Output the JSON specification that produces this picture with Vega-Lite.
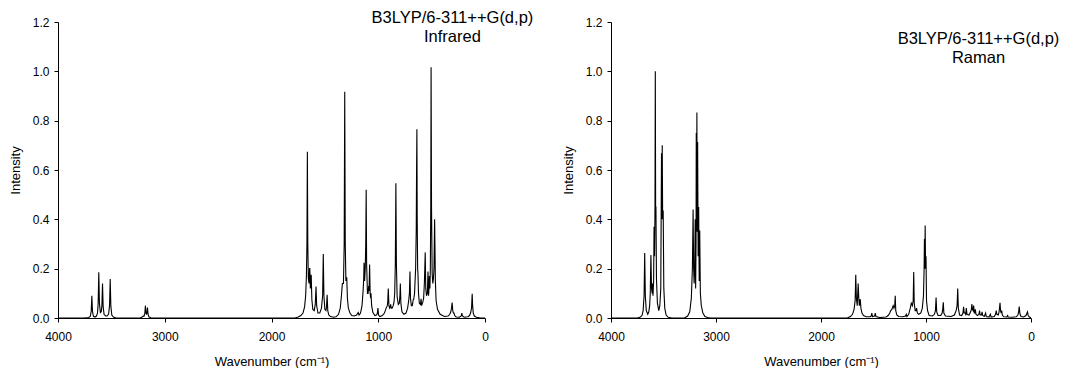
{
  "$schema": "https://vega.github.io/schema/vega-lite/v6.json",
  "padding": {"left": 9, "top": 9, "right": 0, "bottom": 0},
  "background": "white",
  "spacing": 126,
  "bounds": "flush",
  "config": {
    "view": {"stroke": null},
    "font": "Liberation Sans",
    "axis": {
      "grid": false,
      "domainColor": "black",
      "tickColor": "black",
      "labelColor": "black",
      "titleColor": "black",
      "labelFont": "Liberation Sans",
      "titleFont": "Liberation Sans",
      "labelFontSize": 12,
      "titleFontSize": 13,
      "titleFontWeight": "normal",
      "tickSize": 4,
      "labelFlush": false
    },
    "axisX": {"labelPadding": 9, "titlePadding": 13},
    "axisY": {"labelPadding": 5, "titlePadding": 10}
  },
  "datasets": {
    "ir": [
      {"w":4000,"i":0},{"w":3760,"i":0},{"w":3713,"i":0.002},{"w":3698,"i":0.006},{"w":3689,"i":0.027},{"w":3683,"i":0.09},{"w":3677,"i":0.027},{"w":3668,"i":0.007},{"w":3653,"i":0.004},{"w":3640,"i":0.008},{"w":3630,"i":0.02},{"w":3624,"i":0.058},{"w":3618,"i":0.185},{"w":3612,"i":0.06},{"w":3603,"i":0.022},{"w":3595,"i":0.025},{"w":3589,"i":0.048},{"w":3583,"i":0.14},{"w":3577,"i":0.045},{"w":3568,"i":0.014},{"w":3553,"i":0.008},{"w":3540,"i":0.008},{"w":3526,"i":0.016},{"w":3517,"i":0.05},{"w":3511,"i":0.158},{"w":3505,"i":0.048},{"w":3496,"i":0.012},{"w":3481,"i":0.004},{"w":3460,"i":0.001},{"w":3420,"i":0},
      {"w":3230,"i":0},{"w":3212,"i":0.004},{"w":3203,"i":0.008},{"w":3195,"i":0.007},{"w":3187,"i":0.018},{"w":3181,"i":0.05},{"w":3176,"i":0.02},{"w":3171,"i":0.016},{"w":3167,"i":0.02},{"w":3162,"i":0.042},{"w":3156,"i":0.014},{"w":3147,"i":0.004},{"w":3130,"i":0.001},{"w":3100,"i":0},
      {"w":1780,"i":0},{"w":1750,"i":0.004},{"w":1725,"i":0.01},{"w":1705,"i":0.02},{"w":1690,"i":0.045},{"w":1680,"i":0.09},{"w":1673,"i":0.17},{"w":1668,"i":0.3},{"w":1664,"i":0.674},{"w":1660,"i":0.3},{"w":1655,"i":0.16},{"w":1648,"i":0.14},{"w":1644,"i":0.2},{"w":1641,"i":0.2},{"w":1636,"i":0.12},{"w":1632,"i":0.13},{"w":1628,"i":0.175},{"w":1622,"i":0.075},{"w":1613,"i":0.035},{"w":1600,"i":0.03},{"w":1590,"i":0.055},{"w":1583,"i":0.128},{"w":1577,"i":0.05},{"w":1565,"i":0.02},{"w":1548,"i":0.02},{"w":1532,"i":0.04},{"w":1521,"i":0.09},{"w":1515,"i":0.259},{"w":1509,"i":0.09},{"w":1500,"i":0.035},{"w":1490,"i":0.03},{"w":1485,"i":0.045},{"w":1479,"i":0.094},{"w":1473,"i":0.03},{"w":1463,"i":0.012},{"w":1448,"i":0.006},{"w":1420,"i":0.003},{"w":1395,"i":0.005},{"w":1372,"i":0.015},{"w":1356,"i":0.04},{"w":1345,"i":0.09},{"w":1336,"i":0.14},{"w":1326,"i":0.14},{"w":1319,"i":0.3},{"w":1314,"i":0.917},{"w":1309,"i":0.3},{"w":1303,"i":0.15},{"w":1295,"i":0.165},{"w":1289,"i":0.08},{"w":1280,"i":0.04},{"w":1265,"i":0.02},{"w":1248,"i":0.01},{"w":1225,"i":0.008},{"w":1203,"i":0.012},{"w":1188,"i":0.022},{"w":1180,"i":0.012},{"w":1166,"i":0.02},{"w":1152,"i":0.05},{"w":1142,"i":0.11},{"w":1136,"i":0.16},{"w":1133,"i":0.224},{"w":1128,"i":0.15},{"w":1122,"i":0.2},{"w":1117,"i":0.3},{"w":1113,"i":0.52},{"w":1109,"i":0.22},{"w":1101,"i":0.1},{"w":1095,"i":0.1},{"w":1090,"i":0.13},{"w":1086,"i":0.11},{"w":1081,"i":0.217},{"w":1076,"i":0.1},{"w":1071,"i":0.08},{"w":1068,"i":0.1},{"w":1062,"i":0.05},{"w":1050,"i":0.022},{"w":1032,"i":0.01},{"w":1016,"i":0.012},{"w":1009,"i":0.018},{"w":1003,"i":0.04},{"w":997,"i":0.012},{"w":985,"i":0.006},{"w":962,"i":0.01},{"w":942,"i":0.02},{"w":926,"i":0.04},{"w":915,"i":0.05},{"w":911,"i":0.065},{"w":906,"i":0.12},{"w":900,"i":0.05},{"w":893,"i":0.04},{"w":888,"i":0.045},{"w":884,"i":0.055},{"w":878,"i":0.04},{"w":870,"i":0.04},{"w":860,"i":0.05},{"w":852,"i":0.065},{"w":846,"i":0.1},{"w":840,"i":0.22},{"w":835,"i":0.546},{"w":830,"i":0.22},{"w":823,"i":0.085},{"w":812,"i":0.055},{"w":803,"i":0.06},{"w":797,"i":0.09},{"w":793,"i":0.14},{"w":788,"i":0.06},{"w":778,"i":0.025},{"w":760,"i":0.015},{"w":740,"i":0.02},{"w":725,"i":0.04},{"w":715,"i":0.07},{"w":708,"i":0.1},{"w":703,"i":0.188},{"w":698,"i":0.08},{"w":690,"i":0.05},{"w":682,"i":0.05},{"w":677,"i":0.06},{"w":673,"i":0.074},{"w":668,"i":0.075},{"w":660,"i":0.1},{"w":650,"i":0.2},{"w":644,"i":0.36},{"w":641,"i":0.6},{"w":638,"i":0.765},{"w":635,"i":0.4},{"w":631,"i":0.2},{"w":628,"i":0.18},{"w":623,"i":0.1},{"w":615,"i":0.06},{"w":605,"i":0.055},{"w":599,"i":0.078},{"w":594,"i":0.05},{"w":585,"i":0.06},{"w":575,"i":0.08},{"w":568,"i":0.14},{"w":564,"i":0.2},{"w":560,"i":0.266},{"w":555,"i":0.12},{"w":548,"i":0.09},{"w":540,"i":0.1},{"w":534,"i":0.188},{"w":529,"i":0.09},{"w":524,"i":0.12},{"w":521,"i":0.17},{"w":516,"i":0.12},{"w":512,"i":0.2},{"w":508,"i":0.45},{"w":505,"i":1.017},{"w":501,"i":0.45},{"w":495,"i":0.18},{"w":489,"i":0.14},{"w":483,"i":0.16},{"w":478,"i":0.2},{"w":475,"i":0.3},{"w":472,"i":0.4},{"w":469,"i":0.3},{"w":465,"i":0.15},{"w":458,"i":0.07},{"w":445,"i":0.035},{"w":420,"i":0.015},{"w":380,"i":0.006},{"w":345,"i":0.008},{"w":330,"i":0.015},{"w":320,"i":0.025},{"w":314,"i":0.04},{"w":308,"i":0.063},{"w":302,"i":0.03},{"w":296,"i":0.02},{"w":290,"i":0.02},{"w":284,"i":0.01},{"w":270,"i":0.004},{"w":240,"i":0.003},{"w":223,"i":0.008},{"w":217,"i":0.02},{"w":211,"i":0.008},{"w":195,"i":0.003},{"w":160,"i":0.005},{"w":145,"i":0.01},{"w":135,"i":0.02},{"w":126,"i":0.04},{"w":123,"i":0.07},{"w":120,"i":0.098},{"w":116,"i":0.05},{"w":110,"i":0.02},{"w":100,"i":0.008},{"w":80,"i":0.003},{"w":50,"i":0.001},{"w":0,"i":0}
    ],
    "raman": [
      {"w":4000,"i":0},{"w":3750,"i":0},{"w":3720,"i":0.004},{"w":3705,"i":0.01},{"w":3694,"i":0.03},{"w":3685,"i":0.09},{"w":3679,"i":0.263},{"w":3673,"i":0.09},{"w":3664,"i":0.03},{"w":3650,"i":0.015},{"w":3640,"i":0.025},{"w":3632,"i":0.05},{"w":3626,"i":0.1},{"w":3620,"i":0.255},{"w":3614,"i":0.12},{"w":3608,"i":0.1},{"w":3605,"i":0.14},{"w":3600,"i":0.09},{"w":3594,"i":0.15},{"w":3590,"i":0.37},{"w":3585,"i":0.25},{"w":3581,"i":0.45},{"w":3578,"i":1.0},{"w":3575,"i":0.45},{"w":3572,"i":0.45},{"w":3567,"i":0.16},{"w":3558,"i":0.06},{"w":3545,"i":0.03},{"w":3535,"i":0.05},{"w":3526,"i":0.12},{"w":3519,"i":0.668},{"w":3515,"i":0.4},{"w":3512,"i":0.7},{"w":3508,"i":0.4},{"w":3503,"i":0.436},{"w":3497,"i":0.12},{"w":3488,"i":0.04},{"w":3475,"i":0.012},{"w":3455,"i":0.003},{"w":3420,"i":0},
      {"w":3300,"i":0},{"w":3270,"i":0.008},{"w":3250,"i":0.025},{"w":3235,"i":0.08},{"w":3225,"i":0.2},{"w":3218,"i":0.44},{"w":3213,"i":0.2},{"w":3208,"i":0.14},{"w":3203,"i":0.2},{"w":3198,"i":0.4},{"w":3194,"i":0.12},{"w":3190,"i":0.3},{"w":3188,"i":0.75},{"w":3185,"i":0.4},{"w":3182,"i":0.833},{"w":3179,"i":0.35},{"w":3175,"i":0.714},{"w":3170,"i":0.25},{"w":3165,"i":0.45},{"w":3160,"i":0.15},{"w":3155,"i":0.355},{"w":3149,"i":0.1},{"w":3140,"i":0.05},{"w":3125,"i":0.02},{"w":3105,"i":0.006},{"w":3080,"i":0.002},{"w":3050,"i":0},
      {"w":1750,"i":0},{"w":1720,"i":0.006},{"w":1700,"i":0.015},{"w":1685,"i":0.035},{"w":1675,"i":0.07},{"w":1669,"i":0.175},{"w":1663,"i":0.08},{"w":1655,"i":0.05},{"w":1646,"i":0.14},{"w":1640,"i":0.08},{"w":1635,"i":0.05},{"w":1630,"i":0.07},{"w":1626,"i":0.076},{"w":1620,"i":0.04},{"w":1610,"i":0.02},{"w":1595,"i":0.01},{"w":1570,"i":0.005},{"w":1530,"i":0.005},{"w":1522,"i":0.008},{"w":1516,"i":0.02},{"w":1510,"i":0.006},{"w":1490,"i":0.008},{"w":1483,"i":0.02},{"w":1477,"i":0.006},{"w":1440,"i":0.002},{"w":1380,"i":0.004},{"w":1360,"i":0.01},{"w":1345,"i":0.02},{"w":1336,"i":0.03},{"w":1325,"i":0.035},{"w":1313,"i":0.05},{"w":1305,"i":0.04},{"w":1298,"i":0.05},{"w":1293,"i":0.09},{"w":1288,"i":0.03},{"w":1278,"i":0.012},{"w":1260,"i":0.006},{"w":1220,"i":0.005},{"w":1195,"i":0.008},{"w":1188,"i":0.015},{"w":1182,"i":0.006},{"w":1165,"i":0.015},{"w":1150,"i":0.04},{"w":1140,"i":0.06},{"w":1130,"i":0.05},{"w":1122,"i":0.07},{"w":1117,"i":0.186},{"w":1112,"i":0.06},{"w":1103,"i":0.03},{"w":1095,"i":0.03},{"w":1090,"i":0.04},{"w":1082,"i":0.02},{"w":1070,"i":0.015},{"w":1050,"i":0.02},{"w":1035,"i":0.04},{"w":1024,"i":0.09},{"w":1018,"i":0.2},{"w":1015,"i":0.32},{"w":1011,"i":0.2},{"w":1008,"i":0.375},{"w":1004,"i":0.2},{"w":1000,"i":0.25},{"w":995,"i":0.07},{"w":985,"i":0.03},{"w":970,"i":0.01},{"w":940,"i":0.008},{"w":920,"i":0.015},{"w":910,"i":0.03},{"w":904,"i":0.083},{"w":898,"i":0.025},{"w":885,"i":0.01},{"w":860,"i":0.01},{"w":846,"i":0.02},{"w":840,"i":0.04},{"w":835,"i":0.064},{"w":830,"i":0.02},{"w":815,"i":0.008},{"w":760,"i":0.006},{"w":730,"i":0.012},{"w":713,"i":0.03},{"w":704,"i":0.05},{"w":698,"i":0.12},{"w":692,"i":0.04},{"w":680,"i":0.012},{"w":660,"i":0.01},{"w":648,"i":0.02},{"w":642,"i":0.045},{"w":636,"i":0.02},{"w":628,"i":0.02},{"w":622,"i":0.015},{"w":616,"i":0.04},{"w":610,"i":0.015},{"w":590,"i":0.012},{"w":575,"i":0.025},{"w":568,"i":0.035},{"w":563,"i":0.057},{"w":558,"i":0.035},{"w":552,"i":0.03},{"w":546,"i":0.05},{"w":540,"i":0.02},{"w":535,"i":0.02},{"w":530,"i":0.035},{"w":524,"i":0.015},{"w":510,"i":0.01},{"w":496,"i":0.015},{"w":490,"i":0.03},{"w":484,"i":0.012},{"w":472,"i":0.012},{"w":466,"i":0.025},{"w":460,"i":0.01},{"w":445,"i":0.006},{"w":432,"i":0.02},{"w":426,"i":0.006},{"w":400,"i":0.004},{"w":387,"i":0.015},{"w":380,"i":0.004},{"w":350,"i":0.006},{"w":338,"i":0.015},{"w":331,"i":0.03},{"w":325,"i":0.015},{"w":312,"i":0.012},{"w":304,"i":0.025},{"w":299,"i":0.045},{"w":295,"i":0.062},{"w":290,"i":0.03},{"w":284,"i":0.02},{"w":279,"i":0.03},{"w":273,"i":0.012},{"w":260,"i":0.005},{"w":230,"i":0.004},{"w":223,"i":0.01},{"w":217,"i":0.004},{"w":180,"i":0.003},{"w":140,"i":0.005},{"w":125,"i":0.012},{"w":118,"i":0.025},{"w":112,"i":0.046},{"w":106,"i":0.018},{"w":95,"i":0.006},{"w":70,"i":0.004},{"w":48,"i":0.01},{"w":38,"i":0.02},{"w":33,"i":0.025},{"w":27,"i":0.01},{"w":15,"i":0.004},{"w":0,"i":0}
    ]
  },
  "hconcat": [
    {
      "width": 427,
      "height": 296,
      "layer": [
        {
          "data": {"name": "ir"},
          "mark": {"type": "line", "color": "black", "strokeWidth": 1.1, "clip": true},
          "encoding": {
            "x": {"field": "w", "type": "quantitative",
                  "scale": {"domain": [0, 4000], "reverse": true, "nice": false},
                  "axis": {"values": [0, 1000, 2000, 3000, 4000], "format": "d", "title": "Wavenumber (cm⁻¹)"}},
            "y": {"field": "i", "type": "quantitative",
                  "scale": {"domain": [0, 1.2], "nice": false},
                  "axis": {"values": [0, 0.2, 0.4, 0.6, 0.8, 1.0, 1.2], "format": ".1f", "title": "Intensity"}}
          }
        },
        {
          "data": {"values": [{}]},
          "mark": {"type": "text", "text": ["B3LYP/6-311++G(d,p)", "Infrared"], "align": "center", "baseline": "alphabetic", "fontSize": 16.5, "lineHeight": 19, "color": "black", "font": "Liberation Sans"},
          "encoding": {
            "x": {"datum": 305, "type": "quantitative"},
            "y": {"datum": 1.197, "type": "quantitative"}
          }
        }
      ]
    },
    {
      "width": 420,
      "height": 296,
      "layer": [
        {
          "data": {"name": "raman"},
          "mark": {"type": "line", "color": "black", "strokeWidth": 1.1, "clip": true},
          "encoding": {
            "x": {"field": "w", "type": "quantitative",
                  "scale": {"domain": [0, 4000], "reverse": true, "nice": false},
                  "axis": {"values": [0, 1000, 2000, 3000, 4000], "format": "d", "title": "Wavenumber (cm⁻¹)"}},
            "y": {"field": "i", "type": "quantitative",
                  "scale": {"domain": [0, 1.2], "nice": false},
                  "axis": {"values": [0, 0.2, 0.4, 0.6, 0.8, 1.0, 1.2], "format": ".1f", "title": "Intensity"}}
          }
        },
        {
          "data": {"values": [{}]},
          "mark": {"type": "text", "text": ["B3LYP/6-311++G(d,p)", "Raman"], "align": "center", "baseline": "alphabetic", "fontSize": 16.5, "lineHeight": 19, "color": "black", "font": "Liberation Sans"},
          "encoding": {
            "x": {"datum": 500, "type": "quantitative"},
            "y": {"datum": 1.111, "type": "quantitative"}
          }
        }
      ]
    }
  ]
}
